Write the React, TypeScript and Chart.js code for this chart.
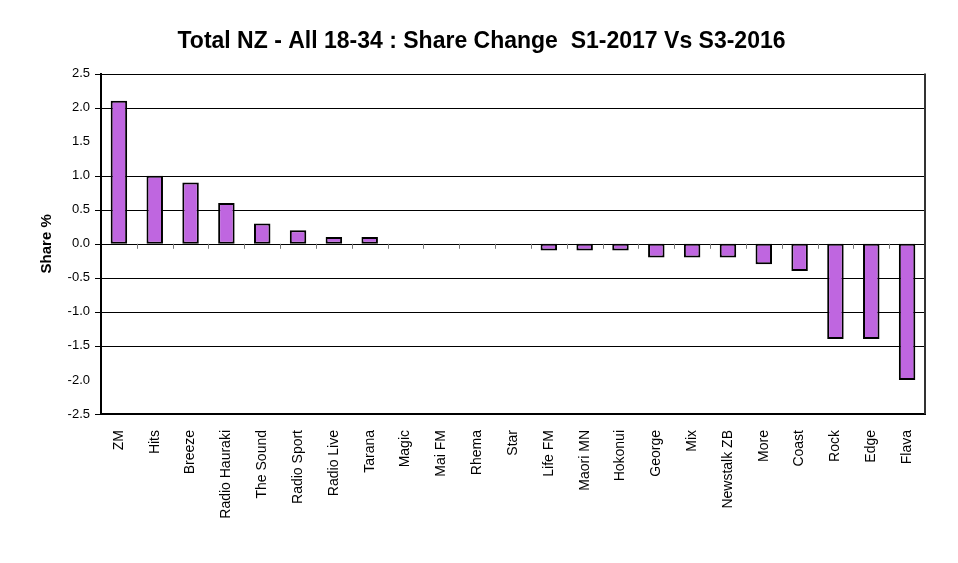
import { Chart, registerables } from "chart.js";
import { useEffect, useRef } from "react";

Chart.register(...registerables);

const stations = [
  "ZM", "Hits", "Breeze", "Radio Hauraki", "The Sound", "Radio Sport", "Radio Live", "Tarana",
  "Magic", "Mai FM", "Rhema", "Star", "Life FM", "Maori MN", "Hokonui", "George", "Mix",
  "Newstalk ZB", "More", "Coast", "Rock", "Edge", "Flava",
];
const shareChange = [
  2.1, 1.0, 0.9, 0.6, 0.3, 0.2, 0.1, 0.1,
  0, 0, 0, 0, -0.1, -0.1, -0.1, -0.2, -0.2,
  -0.2, -0.3, -0.4, -1.4, -1.4, -2.0,
];
// gridlines (and their tick marks) that don't show in the original
const hiddenGrid = [1.5, -2.0];

const FONT = "'Liberation Sans', Arial, sans-serif";

const isHidden = (v: number) => hiddenGrid.some((h) => Math.abs(v - h) < 1e-6);

// horizontal gridlines + y tick marks, drawn under the bars
const gridPlugin = {
  id: "shareGrid",
  beforeDatasetsDraw(chart: any) {
    const { ctx, chartArea, scales } = chart;
    const y = scales.y;
    ctx.save();
    ctx.strokeStyle = "#000";
    ctx.lineWidth = 1;
    ctx.beginPath();
    for (const t of y.ticks) {
      if (isHidden(t.value)) continue;
      const py = Math.round(y.getPixelForValue(t.value)) + 0.5;
      ctx.moveTo(chartArea.left - 6, py);
      ctx.lineTo(chartArea.right, py);
    }
    ctx.stroke();
    ctx.restore();
  },
  afterDraw(chart: any) {
    const { ctx, chartArea, scales } = chart;
    const x = scales.x;
    const y0 = scales.y.getPixelForValue(0);
    ctx.save();
    // right frame
    ctx.strokeStyle = "#333";
    ctx.lineWidth = 2;
    ctx.beginPath();
    ctx.moveTo(chartArea.right, chartArea.top);
    ctx.lineTo(chartArea.right, chartArea.bottom);
    ctx.stroke();
    // category ticks on the zero line
    ctx.strokeStyle = "#777";
    ctx.lineWidth = 1;
    ctx.beginPath();
    for (let i = 1; i < stations.length; i++) {
      const px = Math.round((x.getPixelForValue(i - 1) + x.getPixelForValue(i)) / 2) + 0.5;
      ctx.moveTo(px, y0);
      ctx.lineTo(px, y0 + 5);
    }
    ctx.stroke();
    ctx.restore();
  },
};

const ShareChart = () => {
  const canvasRef = useRef<HTMLCanvasElement>(null);

  useEffect(() => {
    if (!canvasRef.current) return;
    const chart = new Chart(canvasRef.current, {
      type: "bar",
      data: {
        labels: stations,
        datasets: [
          {
            data: shareChange,
            backgroundColor: "#BF66E0",
            borderColor: "#000",
            borderWidth: 2,
            borderSkipped: false,
            barPercentage: 0.46,
            categoryPercentage: 1,
          },
        ],
      },
      options: {
        animation: false,
        responsive: true,
        maintainAspectRatio: false,
        layout: { padding: { left: 38, right: 33, top: 0, bottom: 0 } },
        plugins: {
          legend: { display: false },
          tooltip: { enabled: false },
          title: {
            display: true,
            text: "Total NZ - All 18-34 : Share Change  S1-2017 Vs S3-2016",
            color: "#000",
            font: { family: FONT, size: 23, weight: "bold" },
            padding: { top: 28, bottom: 18 },
          },
        },
        scales: {
          x: {
            grid: { display: false },
            border: { color: "#000", width: 2 },
            ticks: {
              color: "#000",
              font: { family: FONT, size: 14 },
              minRotation: 90,
              maxRotation: 90,
              autoSkip: false,
              padding: 8,
            },
            afterFit: (s: any) => {
              s.height = 149;
            },
          },
          y: {
            min: -2.5,
            max: 2.5,
            border: { color: "#000", width: 2, z: 1 },
            grid: { display: false, drawTicks: false },
            ticks: {
              stepSize: 0.5,
              color: "#000",
              font: { family: FONT, size: 13 },
              padding: 11,
              callback: (v: any) => Number(v).toFixed(1),
            },
            title: {
              display: true,
              text: "Share %",
              color: "#000",
              font: { family: FONT, size: 15, weight: "bold" },
              padding: { top: 0, bottom: 0 },
            },
            afterFit: (s: any) => {
              s.width = 63;
            },
          },
        },
      },
      plugins: [gridPlugin],
    });
    return () => chart.destroy();
  }, []);

  return <canvas ref={canvasRef} />;
};

export default function App() {
  useEffect(() => {
    document.body.style.margin = "0";
  }, []);
  return (
    <div style={{ width: 958, height: 563, background: "#fff", position: "relative" }}>
      <ShareChart />
    </div>
  );
}
